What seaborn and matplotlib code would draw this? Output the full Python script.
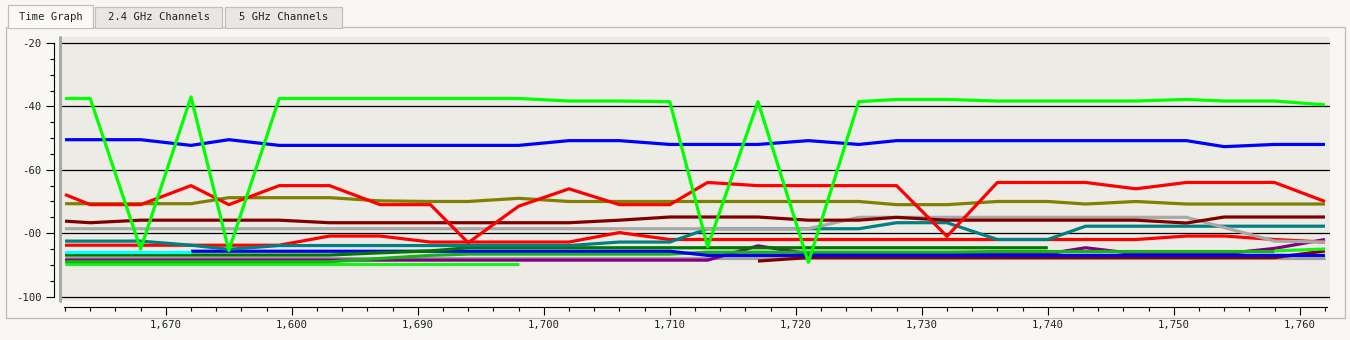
import numpy as np
import pandas as pd
import matplotlib
matplotlib.use("Agg")
import matplotlib.pyplot as plt
from matplotlib.patches import Rectangle
from matplotlib.ticker import FixedLocator, FixedFormatter, MultipleLocator
import seaborn as sns

# ---------------- data ----------------
times = [1662, 1664, 1668, 1672, 1675, 1679, 1683, 1687, 1691, 1694, 1698, 1702, 1706, 1710,
         1713, 1717, 1721, 1725, 1728, 1732, 1736, 1740, 1743, 1747, 1751, 1754, 1758, 1762]
N = np.nan

lime_top = [-37.5, -37.5, -85, -37, -85.5, -37.5, -37.5, -37.5, -37.5, -37.5, -37.5, -38.3, -38.3, -38.5,
            -84.3, -38.5, -89.2, -38.5, -37.8, -37.8, -38.3, -38.3, -38.3, -38.3, -37.8, -38.3, -38.3, -39.5]
blue_top = [-50.5, -50.5, -50.5, -52.3, -50.5, -52.3, -52.3, -52.3, -52.3, -52.3, -52.3, -50.8, -50.8, -52,
            -52, -52, -50.8, -52, -50.8, -50.8, -50.8, -50.8, -50.8, -50.8, -50.8, -52.7, -52, -52]
red_top = [-67.8, -71, -71, -65, -71, -65, -65, -71, -71, -83, -71.5, -66, -71, -71,
           -64, -65, -65, -65, -65, -81, -64, -64, -64, -66, -64, -64, -64, -70]
olive = [-70.7, -70.7, -70.7, -70.7, -68.8, -68.8, -68.8, -69.8, -70, -70, -69, -70, -70, -70,
         -70, -70, -70, -70, -71, -71, -70, -70, -70.8, -70, -70.8, -70.8, -70.8, -70.8]
darkred_top = [-76.2, -76.7, -75.9, -75.9, -75.9, -75.9, -76.7, -76.7, -76.7, -76.7, -76.7, -76.7, -75.9, -74.9,
               -74.9, -74.9, -75.9, -75.9, -75.0, -75.9, -75.9, -75.9, -75.9, -75.9, -76.8, -74.9, -74.9, -74.9]
gray_top = [-78.6, -78.6, -78.6, -78.6, -78.6, -78.6, -78.6, -78.6, -78.6, -78.6, -78.6, -78.6, -78.6, -78.6,
            -78.6, -78.6, -78.6, -75.0, -75.0, -75.0, -75.0, -75.0, -75.0, -75.0, -75.0, -78.2, -82.5, -82.8]
teal = [-82.5, -82.5, -82.5, -83.8, -85.1, -83.9, -83.9, -83.9, -83.9, -83.9, -83.9, -83.9, -82.8, -82.8,
        -78.6, -78.6, -78.6, -78.6, -76.7, -76.7, -82, -82, -77.8, -77.8, -77.8, -77.8, -77.8, -77.8]
red_low = [-83.8, -83.8, -83.8, -83.8, -83.8, -83.8, -80.9, -80.9, -82.8, -82.8, -82.8, -82.8, -79.8, -82,
           -82, -82, -82, -82, -82, -82, -82, -82, -82, -82, -80.9, -80.9, -82, -82.8]
cyan = [-85.8, -85.8, -85.8, -85.8, N, N, N, N, N, N, N, N, N, N,
        N, N, N, N, N, N, N, N, N, N, N, N, N, N]
darkgreen = [-86.9, -86.9, -86.9, -86.9, -86.9, -86.9, -86.9, -86.2, -85.6, -84.6, -84.6, -84.6, -84.6, -84.6,
             -84.6, -84.6, -84.6, -84.6, -84.6, -84.6, -84.6, -84.6, N, N, N, N, N, N]
blue_low = [N, N, N, -85.7, -85.7, -85.7, -85.7, -85.7, -85.7, -85.7, -85.7, -85.7, -85.7, -85.7,
            -87, -87, -87, -87, -87, -87, -87, -87, -87, -87, -87, -87, -87, -87]
green = [-89, -89, -89, -89, -89, -89, -89, -88, -87, -86.6, -86.6, -86.6, -86.6, -86.6,
         -86, -86, -86, -86, -86, -86, -85.8, -85.8, -85.8, -85.8, -85.8, -85.8, -85.8, N]
purple = [-88.5, -88.5, -88.5, -88.5, -88.5, -88.5, -88.5, -88.5, -88.5, -88.5, -88.5, -88.5, -88.5, -88.5,
          -88.5, -84.0, -86.5, -86.5, -86.5, -86.5, -86.5, -86.5, -84.6, -86.5, -86.5, -86.5, -84.8, -82]
darkred_low = [N, N, N, N, N, N, N, N, N, N, N, N, N, N,
               N, -88.8, -87.7, -87.7, -87.7, -87.7, -87.7, -87.7, -87.7, -87.7, -87.7, -87.7, -87.7, -85.6]
gray_low = [-87.8] * 28
lime_low_a = [-89.6, -89.6, -89.6, -89.6, -89.6, -89.6, -89.6, -89.6, -89.6, -89.6, -89.6, N, N, N,
              N, N, N, N, N, N, N, N, N, N, N, N, N, N]
lime_low_b = [N] * 26 + [-85.6, -85.0]

series = [
    ("gray_low", gray_low, "#a0a0a0"),
    ("darkred_low", darkred_low, "#800000"),
    ("purple", purple, "#800080"),
    ("lime_low_a", lime_low_a, "#1cf01c"),
    ("lime_low_b", lime_low_b, "#1cf01c"),
    ("green", green, "#14b414"),
    ("blue_low", blue_low, "#0000f0"),
    ("darkgreen", darkgreen, "#007800"),
    ("cyan", cyan, "#00ffff"),
    ("red_low", red_low, "#ff0000"),
    ("teal", teal, "#008080"),
    ("gray_top", gray_top, "#a8a8a8"),
    ("darkred_top", darkred_top, "#800000"),
    ("olive", olive, "#808000"),
    ("red_top", red_top, "#ff0000"),
    ("blue_top", blue_top, "#0000ff"),
    ("lime_top", lime_top, "#00ff00"),
]

x_ticks = [1670, 1680, 1690, 1700, 1710, 1720, 1730, 1740, 1750, 1760]
x_tick_labels = ["1,670", "1,600", "1,690", "1,700", "1,710", "1,720", "1,730", "1,740", "1,750", "1,760"]
y_ticks = [-100, -80, -60, -40, -20]
y_tick_labels = ["-100", "-00", "-60", "-40", "-20"]
tabs = ["Time Graph", "2.4 GHz Channels", "5 GHz Channels"]

# ---------------- style ----------------
FIG_BG = "#f8f7f4"
PLOT_BG = "#ecebe6"
sns.set_style("white")
plt.rcParams['font.family'] = ['DejaVu Sans Mono', 'DejaVu Sans']

W, H = 1350, 340
fig = plt.figure(figsize=(13.5, 3.4), dpi=100, facecolor=FIG_BG)

def fx(px):
    return px / W

def fy(py):
    return 1 - py / H

# panel border and tabs (drawn beneath the axes)
fig.add_artist(Rectangle((fx(6), fy(318)), fx(1345) - fx(6), fy(27) - fy(318),
                         transform=fig.transFigure, facecolor=FIG_BG, edgecolor="#bdbbb7",
                         lw=0.9, zorder=-3))
tab_geom = [(8, 93, 5), (95, 222, 7), (225, 342, 7)]
for i, (name, (x0, x1, y0)) in enumerate(zip(tabs, tab_geom)):
    fc = "#faf9f7" if i == 0 else "#e9e7e3"
    fig.add_artist(Rectangle((fx(x0), fy(27.5)), fx(x1) - fx(x0), fy(y0) - fy(27.5),
                             transform=fig.transFigure, facecolor=fc, edgecolor="#c2c0bc",
                             lw=0.9, zorder=-2))
    fig.text(fx((x0 + x1) / 2), fy(17.5), name, ha="center", va="center", fontsize=7.6, color="#222222")
fig.add_artist(Rectangle((fx(8.6), fy(28.3)), fx(92.4) - fx(8.6), fy(26.5) - fy(28.3),
                         transform=fig.transFigure, facecolor="#faf9f7", edgecolor="none", zorder=-1))

ax = fig.add_axes([fx(60), fy(301), fx(1330) - fx(60), fy(37) - fy(301)])
ax.set_facecolor(PLOT_BG)
ax.set_zorder(1)

for name, vals, col in series:
    df = pd.DataFrame({"time": times, "value": vals}).dropna()
    sns.lineplot(data=df, x="time", y="value", color=col, lw=2.3, ax=ax,
                 estimator=None, sort=False, legend=False, solid_capstyle="butt")

ax.set_xlim(1661.6, 1762.4)
ax.set_ylim(-101.4, -18.1)

for sp in ["top", "right"]:
    ax.spines[sp].set_visible(False)
ax.spines["left"].set_position(("outward", 4))
ax.spines["left"].set_bounds(-100, -20)
ax.spines["left"].set_color("black")
ax.spines["left"].set_linewidth(0.8)
ax.spines["bottom"].set_position(("outward", 4))
ax.spines["bottom"].set_bounds(1661.9, 1762.2)
ax.spines["bottom"].set_color("black")
ax.spines["bottom"].set_linewidth(0.8)

ax.xaxis.set_major_locator(FixedLocator(x_ticks))
ax.xaxis.set_major_formatter(FixedFormatter(x_tick_labels))
ax.xaxis.set_minor_locator(MultipleLocator(2))
ax.yaxis.set_major_locator(FixedLocator(y_ticks))
ax.yaxis.set_major_formatter(FixedFormatter(y_tick_labels))
ax.yaxis.set_minor_locator(MultipleLocator(5))

ax.tick_params(axis="both", which="major", direction="out", length=5.5, width=0.8,
               color="black", labelsize=7.7, labelcolor="#222222",
               left=True, bottom=True)
ax.tick_params(axis="both", which="minor", direction="out", length=2.6, width=0.8, color="black",
               left=True, bottom=True)
ax.tick_params(axis="x", which="major", pad=4.5)
ax.tick_params(axis="y", which="major", pad=4)

ax.set_xlabel("")
ax.set_ylabel("")

for yv in y_ticks:
    ax.axhline(yv, color="black", lw=0.9, zorder=1.5)
ax.axvline(1661.6, color="#a9a9a9", lw=2.2, zorder=5, clip_on=False)

fig.savefig("out.png", dpi=100, facecolor=FIG_BG)
